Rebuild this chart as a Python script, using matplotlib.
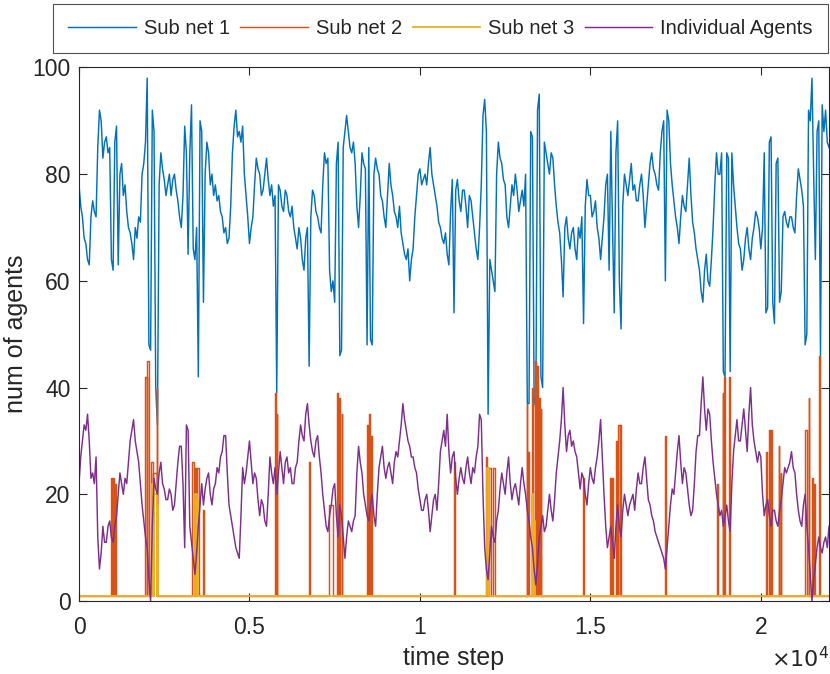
import numpy as np
import matplotlib
matplotlib.use("Agg")
import matplotlib.pyplot as plt
from matplotlib.ticker import FuncFormatter

plt.rcParams['font.family'] = ['Liberation Sans', 'DejaVu Sans']

# Werte, alle 50 Zeitschritte (eine Zeile = 1000 Schritte)
step = 50
sub1_values = [
    78, 74, 72, 68, 67, 64, 63, 72, 75, 73, 72, 85, 92, 90, 83, 86, 87, 84, 85, 64,
    62, 86, 89, 63, 80, 82, 76, 78, 73, 70, 69, 67, 64, 70, 68, 72, 71, 80, 82, 86,
    98, 48, 47, 92, 88, 40, 33, 78, 84, 81, 79, 76, 78, 80, 76, 79, 80, 77, 75, 72,
    70, 76, 89, 84, 65, 84, 93, 66, 64, 70, 42, 90, 88, 56, 80, 86, 84, 78, 80, 76,
    78, 75, 76, 73, 72, 69, 70, 67, 68, 74, 84, 89, 92, 87, 88, 86, 89, 80, 76, 72,
    67, 70, 72, 78, 83, 81, 80, 76, 77, 80, 83, 79, 76, 78, 74, 76, 39, 78, 77, 74,
    73, 77, 76, 73, 72, 74, 70, 68, 66, 70, 68, 64, 62, 68, 70, 44, 72, 77, 76, 73,
    72, 70, 69, 78, 84, 82, 83, 62, 58, 60, 56, 82, 86, 46, 47, 85, 88, 91, 88, 85,
    84, 86, 82, 74, 70, 76, 84, 82, 81, 48, 85, 49, 48, 80, 83, 81, 80, 76, 75, 72,
    70, 76, 82, 78, 76, 73, 72, 70, 74, 69, 67, 65, 64, 66, 60, 64, 66, 72, 76, 80,
    81, 78, 79, 80, 78, 82, 85, 80, 78, 76, 74, 71, 70, 68, 67, 69, 65, 63, 73, 79,
    54, 77, 79, 75, 73, 77, 77, 74, 70, 76, 75, 72, 69, 66, 64, 70, 78, 91, 94, 88,
    35, 64, 62, 60, 58, 80, 86, 83, 82, 79, 78, 72, 70, 74, 78, 76, 80, 77, 73, 75,
    77, 74, 80, 37, 37, 88, 87, 38, 36, 92, 95, 42, 40, 86, 84, 82, 80, 84, 83, 78,
    74, 71, 69, 64, 57, 70, 72, 68, 66, 69, 70, 66, 64, 70, 68, 72, 52, 74, 79, 76,
    76, 72, 73, 75, 70, 68, 64, 68, 72, 78, 80, 62, 88, 70, 54, 84, 90, 60, 51, 74,
    80, 78, 76, 79, 82, 77, 78, 75, 75, 78, 80, 76, 70, 74, 78, 82, 84, 81, 80, 78,
    77, 84, 88, 90, 60, 92, 90, 82, 78, 75, 72, 70, 67, 72, 76, 74, 73, 78, 83, 76,
    71, 69, 66, 64, 62, 58, 56, 62, 65, 60, 59, 64, 70, 78, 84, 80, 80, 84, 43, 42,
    84, 83, 43, 84, 78, 74, 70, 67, 66, 62, 64, 68, 70, 66, 64, 68, 70, 73, 72, 70,
    66, 70, 84, 54, 55, 86, 87, 56, 52, 82, 83, 56, 58, 72, 73, 71, 70, 72, 72, 70,
    69, 76, 81, 79, 77, 74, 48, 50, 92, 90, 98, 80, 64, 88, 90, 46, 93, 88, 92, 86,
    85,
]
agents_values = [
    22, 27, 30, 33, 32, 35, 30, 23, 24, 22, 27, 12, 6, 9, 14, 11, 11, 14, 15, 12,
    11, 14, 16, 20, 24, 22, 20, 23, 22, 26, 30, 32, 34, 30, 28, 26, 22, 18, 15, 12,
    10, 4, 0, 14, 23, 21, 20, 24, 26, 22, 21, 19, 19, 21, 20, 17, 18, 22, 26, 29,
    29, 22, 10, 33, 32, 14, 11, 8, 5, 9, 14, 18, 22, 18, 21, 23, 24, 20, 18, 21,
    22, 25, 24, 27, 28, 31, 31, 24, 18, 16, 14, 12, 10, 9, 8, 16, 25, 22, 24, 27,
    30, 26, 22, 24, 23, 19, 16, 19, 18, 15, 14, 20, 27, 24, 22, 25, 20, 24, 28, 25,
    22, 26, 27, 24, 25, 22, 22, 25, 26, 30, 33, 31, 30, 35, 37, 33, 30, 28, 27, 30,
    31, 27, 24, 20, 17, 14, 13, 16, 18, 21, 22, 16, 12, 18, 16, 12, 8, 12, 15, 14,
    13, 15, 16, 24, 29, 26, 24, 20, 18, 16, 15, 18, 20, 16, 14, 20, 25, 27, 29, 25,
    23, 25, 26, 24, 22, 26, 28, 27, 30, 33, 37, 34, 32, 30, 29, 27, 27, 25, 24, 21,
    19, 17, 17, 19, 20, 17, 13, 16, 19, 20, 17, 22, 28, 30, 32, 29, 35, 28, 24, 27,
    28, 23, 20, 23, 25, 23, 22, 25, 27, 24, 22, 25, 24, 27, 29, 35, 34, 20, 10, 6,
    4, 9, 14, 12, 11, 15, 17, 21, 24, 22, 20, 24, 27, 22, 19, 21, 22, 20, 18, 22,
    25, 22, 20, 17, 15, 12, 10, 6, 3, 7, 12, 14, 16, 13, 14, 17, 20, 17, 15, 19,
    24, 27, 30, 34, 40, 33, 28, 31, 32, 29, 30, 28, 27, 24, 21, 24, 23, 20, 18, 22,
    25, 23, 22, 25, 27, 30, 34, 27, 20, 14, 10, 12, 14, 11, 8, 14, 18, 14, 12, 17,
    20, 18, 16, 18, 19, 20, 17, 21, 24, 22, 22, 25, 27, 23, 19, 18, 16, 15, 13, 12,
    11, 10, 9, 8, 6, 10, 14, 18, 21, 20, 24, 28, 31, 26, 22, 25, 24, 21, 18, 16,
    17, 22, 28, 31, 31, 37, 42, 36, 32, 36, 35, 30, 26, 23, 20, 18, 16, 17, 14, 16,
    18, 15, 13, 22, 28, 31, 34, 30, 30, 33, 36, 32, 28, 35, 40, 33, 30, 28, 26, 28,
    27, 20, 16, 18, 19, 16, 14, 17, 17, 15, 14, 17, 19, 22, 25, 24, 25, 26, 28, 25,
    24, 20, 17, 15, 14, 18, 20, 14, 10, 5, 0, 4, 7, 10, 12, 10, 9, 11, 12, 10,
    14,
]

# Sub net 2 / 3: Grundwert 1, kurze Ausschlaege (Start, Dauer, Hoehe)
base_level = 1
sub2_start = [930, 1000, 1060, 1950, 2000, 2100, 2180, 2280, 3300, 3400, 3470, 3640,
              5750, 5800, 6760, 7340, 7560, 7620, 7700, 8440, 8510, 8570, 11010,
              11940, 12020, 12130, 13130, 13180, 13300, 13370, 13440, 13500, 13540,
              14790, 15570, 15640, 15750, 15820, 15880, 17190, 18720, 18880, 18920,
              19080, 20150, 20250, 20300, 20520, 20580, 21300, 21400, 21490, 21570, 21720]
sub2_width = [30, 40, 30, 30, 40, 60, 100, 20, 60, 40, 40, 20,
              30, 20, 20, 120, 40, 30, 20, 30, 30, 20, 20,
              30, 60, 70, 20, 20, 30, 40, 30, 20, 20,
              20, 30, 30, 20, 40, 20, 30, 20, 20, 40,
              30, 20, 30, 20, 20, 20, 60, 20, 50, 30, 30]
sub2_height = [23, 23, 22, 42, 45, 26, 24, 40, 26, 25, 25, 17,
               39, 35, 26, 18, 39, 38, 35, 33, 35, 31, 26,
               27, 25, 25, 37, 28, 40, 45, 44, 38, 36,
               23, 23, 23, 30, 33, 33, 31, 22, 39, 42,
               42, 28, 32, 32, 29, 24, 32, 38, 23, 22, 46]
sub3_start = [2150, 2210, 2290, 3400, 3460, 11980, 13280, 13350]
sub3_width = [60, 80, 40, 50, 30, 60, 40, 20]
sub3_height = [22, 20, 18, 20, 19, 25, 20, 15]

t_end = 22000


def step_series(starts, widths, heights, base):
    t = [0]
    v = [base]
    for s, w, h in zip(starts, widths, heights):
        t += [s, s, s + w, s + w]
        v += [base, h, h, base]
    t.append(t_end)
    v.append(base)
    return t, v


t_grid = np.arange(len(sub1_values)) * step
sub2_t, sub2_v = step_series(sub2_start, sub2_width, sub2_height, base_level)
sub3_t, sub3_v = step_series(sub3_start, sub3_width, sub3_height, base_level)

fig = plt.figure(figsize=(8.3, 6.74), dpi=100)
ax = fig.add_axes([0.0952, 0.1083, 0.9036, 0.7916])

lw = 1.05
ax.plot(t_grid, sub1_values, color='#0072BD', lw=lw, label='Sub net 1')
ax.plot(sub2_t, sub2_v, color='#D95319', lw=lw, label='Sub net 2')
ax.plot(sub3_t, sub3_v, color='#EDB120', lw=1.3, label='Sub net 3')
ax.plot(t_grid, agents_values, color='#7E2F8E', lw=lw, label='Individual Agents')

ax.set_xlim(0, t_end)
ax.set_ylim(0, 100)
ax.set_xticks([0, 5000, 10000, 15000, 20000])
ax.xaxis.set_major_formatter(FuncFormatter(lambda x, p: f"{x / 1e4:g}"))
ax.set_yticks([0, 20, 40, 60, 80, 100])

dark = '#262626'
for sp in ax.spines.values():
    sp.set_color(dark)
    sp.set_linewidth(0.8)
ax.tick_params(direction='in', length=6, width=0.8, colors=dark, labelsize=16.5,
               top=True, right=True)
ax.tick_params(axis='x', pad=11)
ax.tick_params(axis='y', pad=6)
ax.set_xlabel('time step', fontsize=18, color=dark, labelpad=5)
ax.set_ylabel('num of agents', fontsize=18, color=dark, labelpad=3)
fig.text(0.999, 0.002, r'$\times10^{4}$', ha='right', va='bottom', fontsize=16, color=dark)

leg = fig.legend(loc='center', bbox_to_anchor=(0.0639, 0.92, 0.9337, 0.0756), mode='expand',
                 ncol=4, fontsize=14.5, frameon=True, fancybox=False, borderaxespad=0,
                 handlelength=3.35, handletextpad=0.4, columnspacing=0.6, borderpad=0.75)
leg.get_frame().set_edgecolor(dark)
leg.get_frame().set_linewidth(0.8)
for text in leg.get_texts():
    text.set_color(dark)

fig.savefig('out.png', dpi=100)
